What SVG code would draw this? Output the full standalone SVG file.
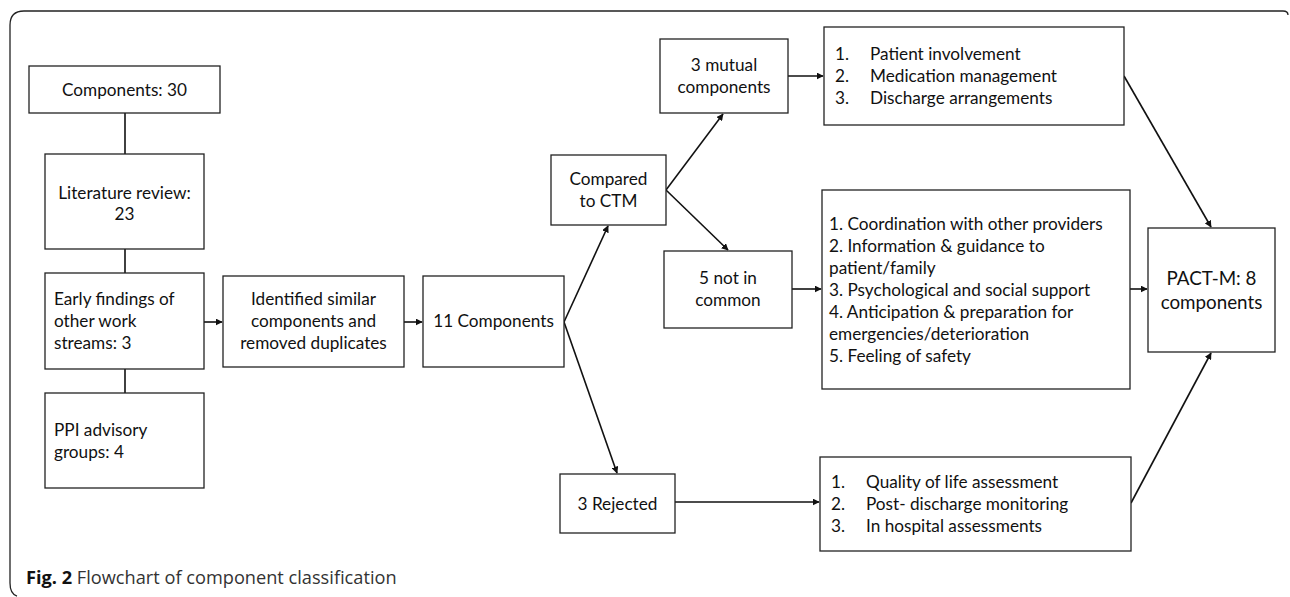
<svg xmlns="http://www.w3.org/2000/svg" width="1290" height="597" viewBox="0 0 1290 597">
<style>
.box{fill:#fff;stroke:#222;stroke-width:1.3}
.t{font-family:Lato,"Liberation Sans",sans-serif;font-size:17.2px;fill:#111}
.c{text-anchor:middle}
.big{font-size:18.8px}
.ln{fill:none;stroke:#111;stroke-width:1.6}
.cap{font-family:"Open Sans","Liberation Sans",sans-serif;font-size:18.2px;fill:#333}
</style>
<defs>
<marker id="ah" viewBox="0 0 10 10" refX="9" refY="5" markerWidth="7" markerHeight="7" markerUnits="userSpaceOnUse" orient="auto">
<path d="M0 0L10 5L0 10z" fill="#111"/>
</marker>
</defs>
<rect width="1290" height="597" fill="#fff"/>
<path d="M1288 15Q1288 11 1283 11L24 11Q10 11 10 25L10 583Q10 594 17 596" fill="none" stroke="#222" stroke-width="1.3"/>
<g id="connectors">
<line class="ln" x1="125" y1="113" x2="125" y2="154"/>
<line class="ln" x1="125" y1="249" x2="125" y2="273"/>
<line class="ln" x1="125" y1="369" x2="125" y2="393"/>
<line class="ln" x1="204" y1="322" x2="222" y2="322" marker-end="url(#ah)"/>
<line class="ln" x1="404" y1="322" x2="422" y2="322" marker-end="url(#ah)"/>
<line class="ln" x1="564" y1="322" x2="608" y2="226" marker-end="url(#ah)"/>
<line class="ln" x1="564" y1="322" x2="617" y2="473" marker-end="url(#ah)"/>
<line class="ln" x1="666" y1="190" x2="723" y2="114" marker-end="url(#ah)"/>
<line class="ln" x1="666" y1="190" x2="728" y2="250" marker-end="url(#ah)"/>
<line class="ln" x1="788" y1="76" x2="823" y2="76" marker-end="url(#ah)"/>
<line class="ln" x1="792" y1="289" x2="821" y2="289" marker-end="url(#ah)"/>
<line class="ln" x1="675" y1="502" x2="819" y2="502" marker-end="url(#ah)"/>
<line class="ln" x1="1124" y1="76" x2="1211" y2="227" marker-end="url(#ah)"/>
<line class="ln" x1="1130" y1="289" x2="1147" y2="289" marker-end="url(#ah)"/>
<line class="ln" x1="1131" y1="503" x2="1211" y2="353" marker-end="url(#ah)"/>
</g>
<g id="n-components30">
<rect class="box" x="29" y="66" width="191" height="47"/>
<text class="t c" x="124.5" y="96">Components: 30</text>
</g>
<g id="n-literature">
<rect class="box" x="45" y="154" width="159" height="95"/>
<text class="t c" x="124.5" y="199">Literature review:</text>
<text class="t c" x="124.5" y="220">23</text>
</g>
<g id="n-early">
<rect class="box" x="45" y="273" width="159" height="96"/>
<text class="t" x="54" y="305">Early findings of</text>
<text class="t" x="54" y="327">other work</text>
<text class="t" x="54" y="349">streams: 3</text>
</g>
<g id="n-ppi">
<rect class="box" x="45" y="393" width="159" height="95"/>
<text class="t" x="54" y="436">PPI advisory</text>
<text class="t" x="54" y="458">groups: 4</text>
</g>
<g id="n-identified">
<rect class="box" x="223" y="276" width="181" height="91"/>
<text class="t c" x="313.5" y="305">Identified similar</text>
<text class="t c" x="313.5" y="327">components and</text>
<text class="t c" x="313.5" y="349">removed duplicates</text>
</g>
<g id="n-eleven">
<rect class="box" x="423" y="276" width="141" height="91"/>
<text class="t c" x="493.5" y="327">11 Components</text>
</g>
<g id="n-compared">
<rect class="box" x="551" y="155" width="115" height="70"/>
<text class="t c" x="608.5" y="185">Compared</text>
<text class="t c" x="608.5" y="207">to CTM</text>
</g>
<g id="n-mutual">
<rect class="box" x="660" y="39" width="128" height="74"/>
<text class="t c" x="724" y="71">3 mutual</text>
<text class="t c" x="724" y="93">components</text>
</g>
<g id="n-notcommon">
<rect class="box" x="664" y="251" width="128" height="77"/>
<text class="t c" x="728" y="284">5 not in</text>
<text class="t c" x="728" y="306">common</text>
</g>
<g id="n-rejected">
<rect class="box" x="560" y="474" width="115" height="59"/>
<text class="t c" x="617.5" y="510">3 Rejected</text>
</g>
<g id="n-list-mutual">
<rect class="box" x="824" y="27" width="300" height="98"/>
<text class="t" x="835" y="60">1.</text><text class="t" x="870" y="60">Patient involvement</text>
<text class="t" x="835" y="82">2.</text><text class="t" x="870" y="82">Medication management</text>
<text class="t" x="835" y="104">3.</text><text class="t" x="870" y="104">Discharge arrangements</text>
</g>
<g id="n-list-notcommon">
<rect class="box" x="822" y="190" width="308" height="199"/>
<text class="t" x="829" y="230">1. Coordination with other providers</text>
<text class="t" x="829" y="252">2. Information &amp; guidance to</text>
<text class="t" x="829" y="274">patient/family</text>
<text class="t" x="829" y="296">3. Psychological and social support</text>
<text class="t" x="829" y="318">4. Anticipation &amp; preparation for</text>
<text class="t" x="829" y="340">emergencies/deterioration</text>
<text class="t" x="829" y="362">5. Feeling of safety</text>
</g>
<g id="n-list-rejected">
<rect class="box" x="820" y="457" width="311" height="94"/>
<text class="t" x="831" y="488">1.</text><text class="t" x="866" y="488">Quality of life assessment</text>
<text class="t" x="831" y="510">2.</text><text class="t" x="866" y="510">Post- discharge monitoring</text>
<text class="t" x="831" y="532">3.</text><text class="t" x="866" y="532">In hospital assessments</text>
</g>
<g id="n-pactm">
<rect class="box" x="1148" y="228" width="127" height="124"/>
<text class="t c big" x="1211.5" y="285">PACT-M: 8</text>
<text class="t c big" x="1211.5" y="309">components</text>
</g>
<text class="cap" x="26" y="584"><tspan font-weight="bold" fill="#111">Fig. 2</tspan> Flowchart of component classification</text>
</svg>
